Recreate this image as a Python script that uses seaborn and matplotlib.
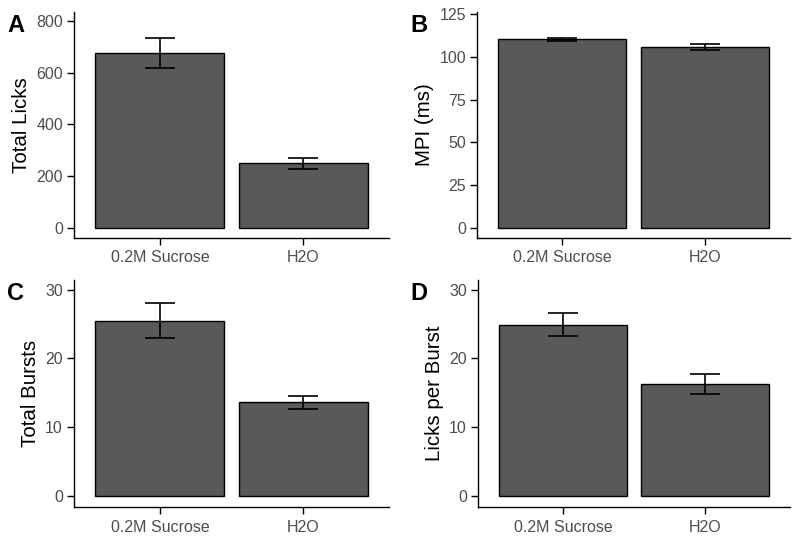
import matplotlib
matplotlib.use("Agg")
import matplotlib.pyplot as plt
import seaborn as sns
import pandas as pd

categories = ["0.2M Sucrose", "H2O"]
total_licks = [677, 249]
total_licks_se = [58, 20]
mpi = [110.3, 105.8]
mpi_se = [1.0, 1.6]
total_bursts = [25.5, 13.6]
total_bursts_se = [2.5, 0.97]
licks_per_burst = [24.9, 16.3]
licks_per_burst_se = [1.7, 1.4]

sns.set_theme(style="ticks")
plt.rcParams["font.family"] = ["Liberation Sans", "DejaVu Sans"]

fig = plt.figure(figsize=(8.0, 5.39), dpi=100)
W, H = 800, 539

def axes_px(l, r, t, b):
    return fig.add_axes([l / W, 1 - b / H, (r - l) / W, (b - t) / H])

panels = [
    ("A", "Total Licks", total_licks, total_licks_se, (-40, 835), [0, 200, 400, 600, 800], (74, 389, 12, 238), 7),
    ("B", "MPI (ms)", mpi, mpi_se, (-6.1, 126.3), [0, 25, 50, 75, 100, 125], (477, 790, 12, 238), 410),
    ("C", "Total Bursts", total_bursts, total_bursts_se, (-1.6, 31.4), [0, 10, 20, 30], (74, 389, 280, 507), 7),
    ("D", "Licks per Burst", licks_per_burst, licks_per_burst_se, (-1.6, 31.4), [0, 10, 20, 30], (478, 790, 280, 507), 410),
]

for letter, ylabel, vals, ses, ylim, yticks, pos, lx in panels:
    ax = axes_px(*pos)
    df = pd.DataFrame({"cond": categories, "val": vals})
    sns.barplot(data=df, x="cond", y="val", ax=ax, color="#595959", saturation=1,
                width=0.9, edgecolor="black", linewidth=1.0, errorbar=None)
    xs = [p.get_x() + p.get_width() / 2 for p in ax.patches]
    ax.errorbar(xs, vals, yerr=ses, fmt="none", ecolor="black", elinewidth=1.2,
                capsize=10.5, capthick=1.2)
    ax.set_xlim(-0.6, 1.6)
    ax.set_ylim(*ylim)
    ax.set_yticks(yticks)
    ax.set_xlabel("")
    ax.set_ylabel(ylabel, fontsize=14.8, color="black", labelpad=4)
    for s in ["top", "right"]:
        ax.spines[s].set_visible(False)
    for s in ["left", "bottom"]:
        ax.spines[s].set_linewidth(1.0)
        ax.spines[s].set_color("black")
    ax.tick_params(axis="both", which="both", direction="out", length=5, width=1.0,
                   colors="black", labelcolor="#4D4D4D", labelsize=11.5, top=False, right=False)
    ax.tick_params(axis="x", pad=4)
    ax.tick_params(axis="y", pad=3)
    ax.grid(False)
    ax.set_facecolor("white")
    l, r, t, b = pos
    fig.text(lx / W, 1 - (t + 2) / H, letter, fontsize=17, fontweight="bold",
             color="black", ha="left", va="top")

fig.patch.set_facecolor("white")
fig.savefig("out.png", dpi=100, facecolor="white")
